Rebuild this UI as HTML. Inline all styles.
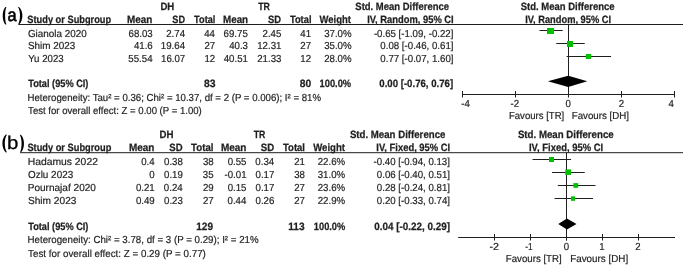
<!DOCTYPE html>
<html><head><meta charset="utf-8"><style>
html,body{margin:0;padding:0;background:#fff;}
svg{display:block;}
text{font-family:"Liberation Sans",sans-serif;}
.t{filter:grayscale(1);text-rendering:geometricPrecision;}
</style></head><body>
<svg width="685" height="267" viewBox="0 0 685 267">
<rect width="685" height="267" fill="#fff"/>
<g class="t">
<path d="M5.4,6.9 C1.80,10.79 1.80,20.71 5.4,24.6 L6.4,24.5 C4.67,20.71 4.67,10.79 6.4,7.0 Z" fill="#000"/>
<text x="7.45" y="20.9" font-size="18" textLength="9.09" lengthAdjust="spacingAndGlyphs" fill="#000" stroke="#000" stroke-width="0.6">a</text>
<path d="M19.0,6.9 C23.53,10.77 23.53,20.63 19.0,24.5 L18.0,24.4 C20.67,20.63 20.67,10.77 18.0,7.0 Z" fill="#000"/>
<text x="160.43" y="10.4" font-size="10.6" font-weight="bold" stroke="#1f1f1f" stroke-width="0.25" textLength="13.89" lengthAdjust="spacingAndGlyphs" fill="#1f1f1f">DH</text>
<text x="258.21" y="10.4" font-size="10.6" font-weight="bold" stroke="#1f1f1f" stroke-width="0.25" textLength="11.79" lengthAdjust="spacingAndGlyphs" fill="#1f1f1f">TR</text>
<text x="355.32" y="10.4" font-size="10.6" font-weight="bold" stroke="#1f1f1f" stroke-width="0.25" textLength="93.67" lengthAdjust="spacingAndGlyphs" fill="#1f1f1f">Std. Mean Difference</text>
<text x="520.72" y="10.4" font-size="10.6" font-weight="bold" stroke="#1f1f1f" stroke-width="0.25" textLength="93.87" lengthAdjust="spacingAndGlyphs" fill="#1f1f1f">Std. Mean Difference</text>
<text x="27.32" y="22.6" font-size="10.6" font-weight="bold" stroke="#1f1f1f" stroke-width="0.25" textLength="83.89" lengthAdjust="spacingAndGlyphs" fill="#1f1f1f">Study or Subgroup</text>
<text x="127.01" y="22.6" font-size="10.6" font-weight="bold" stroke="#1f1f1f" stroke-width="0.25" textLength="25.35" lengthAdjust="spacingAndGlyphs" fill="#1f1f1f">Mean</text>
<text x="172.32" y="22.6" font-size="10.6" font-weight="bold" stroke="#1f1f1f" stroke-width="0.25" textLength="12.73" lengthAdjust="spacingAndGlyphs" fill="#1f1f1f">SD</text>
<text x="194.11" y="22.6" font-size="10.6" font-weight="bold" stroke="#1f1f1f" stroke-width="0.25" textLength="21.28" lengthAdjust="spacingAndGlyphs" fill="#1f1f1f">Total</text>
<text x="223.01" y="22.6" font-size="10.6" font-weight="bold" stroke="#1f1f1f" stroke-width="0.25" textLength="25.14" lengthAdjust="spacingAndGlyphs" fill="#1f1f1f">Mean</text>
<text x="268.02" y="22.6" font-size="10.6" font-weight="bold" stroke="#1f1f1f" stroke-width="0.25" textLength="13.05" lengthAdjust="spacingAndGlyphs" fill="#1f1f1f">SD</text>
<text x="289.91" y="22.6" font-size="10.6" font-weight="bold" stroke="#1f1f1f" stroke-width="0.25" textLength="21.59" lengthAdjust="spacingAndGlyphs" fill="#1f1f1f">Total</text>
<text x="319.50" y="22.6" font-size="10.6" font-weight="bold" stroke="#1f1f1f" stroke-width="0.25" textLength="31.43" lengthAdjust="spacingAndGlyphs" fill="#1f1f1f">Weight</text>
<text x="367.14" y="22.6" font-size="10.6" font-weight="bold" stroke="#1f1f1f" stroke-width="0.25" textLength="86.55" lengthAdjust="spacingAndGlyphs" fill="#1f1f1f">IV, Random, 95% CI</text>
<text x="525.15" y="22.6" font-size="10.6" font-weight="bold" stroke="#1f1f1f" stroke-width="0.25" textLength="85.94" lengthAdjust="spacingAndGlyphs" fill="#1f1f1f">IV, Random, 95% CI</text>
<line x1="18.6" y1="24.5" x2="683" y2="24.5" stroke="#1f1f1f" stroke-width="1"/>
<text x="27.91" y="36.8" font-size="10.2" stroke="#1f1f1f" stroke-width="0.2" textLength="58.88" lengthAdjust="spacingAndGlyphs" fill="#1f1f1f">Gianola 2020</text>
<text x="128.51" y="36.8" font-size="10.2" stroke="#1f1f1f" stroke-width="0.2" textLength="24.20" lengthAdjust="spacingAndGlyphs" fill="#1f1f1f">68.03</text>
<text x="166.23" y="36.8" font-size="10.2" stroke="#1f1f1f" stroke-width="0.2" textLength="18.82" lengthAdjust="spacingAndGlyphs" fill="#1f1f1f">2.74</text>
<text x="204.26" y="36.8" font-size="10.2" stroke="#1f1f1f" stroke-width="0.2" textLength="10.75" lengthAdjust="spacingAndGlyphs" fill="#1f1f1f">44</text>
<text x="223.62" y="36.8" font-size="10.2" stroke="#1f1f1f" stroke-width="0.2" textLength="24.20" lengthAdjust="spacingAndGlyphs" fill="#1f1f1f">69.75</text>
<text x="262.53" y="36.8" font-size="10.2" stroke="#1f1f1f" stroke-width="0.2" textLength="18.82" lengthAdjust="spacingAndGlyphs" fill="#1f1f1f">2.45</text>
<text x="300.35" y="36.8" font-size="10.2" stroke="#1f1f1f" stroke-width="0.2" textLength="10.75" lengthAdjust="spacingAndGlyphs" fill="#1f1f1f">41</text>
<text x="324.13" y="36.8" font-size="10.2" stroke="#1f1f1f" stroke-width="0.2" textLength="27.42" lengthAdjust="spacingAndGlyphs" fill="#1f1f1f">37.0%</text>
<text x="373.90" y="36.8" font-size="10.2" stroke="#1f1f1f" stroke-width="0.2" textLength="79.54" lengthAdjust="spacingAndGlyphs" fill="#1f1f1f">-0.65 [-1.09, -0.22]</text>
<line x1="539.506" y1="30.5" x2="562.648" y2="30.5" stroke="#1f1f1f" stroke-width="1"/>
<text x="27.91" y="49.449999999999996" font-size="10.2" stroke="#1f1f1f" stroke-width="0.2" textLength="47.29" lengthAdjust="spacingAndGlyphs" fill="#1f1f1f">Shim 2023</text>
<text x="133.93" y="49.449999999999996" font-size="10.2" stroke="#1f1f1f" stroke-width="0.2" textLength="18.82" lengthAdjust="spacingAndGlyphs" fill="#1f1f1f">41.6</text>
<text x="160.82" y="49.449999999999996" font-size="10.2" stroke="#1f1f1f" stroke-width="0.2" textLength="24.20" lengthAdjust="spacingAndGlyphs" fill="#1f1f1f">19.64</text>
<text x="204.45" y="49.449999999999996" font-size="10.2" stroke="#1f1f1f" stroke-width="0.2" textLength="10.75" lengthAdjust="spacingAndGlyphs" fill="#1f1f1f">27</text>
<text x="229.13" y="49.449999999999996" font-size="10.2" stroke="#1f1f1f" stroke-width="0.2" textLength="18.82" lengthAdjust="spacingAndGlyphs" fill="#1f1f1f">40.3</text>
<text x="257.21" y="49.449999999999996" font-size="10.2" stroke="#1f1f1f" stroke-width="0.2" textLength="24.20" lengthAdjust="spacingAndGlyphs" fill="#1f1f1f">12.31</text>
<text x="300.35" y="49.449999999999996" font-size="10.2" stroke="#1f1f1f" stroke-width="0.2" textLength="10.75" lengthAdjust="spacingAndGlyphs" fill="#1f1f1f">27</text>
<text x="324.13" y="49.449999999999996" font-size="10.2" stroke="#1f1f1f" stroke-width="0.2" textLength="27.42" lengthAdjust="spacingAndGlyphs" fill="#1f1f1f">35.0%</text>
<text x="380.37" y="49.449999999999996" font-size="10.2" stroke="#1f1f1f" stroke-width="0.2" textLength="73.11" lengthAdjust="spacingAndGlyphs" fill="#1f1f1f">0.08 [-0.46, 0.61]</text>
<line x1="556.264" y1="43.5" x2="584.726" y2="43.5" stroke="#1f1f1f" stroke-width="1"/>
<text x="28.21" y="62.099999999999994" font-size="10.2" stroke="#1f1f1f" stroke-width="0.2" textLength="35.48" lengthAdjust="spacingAndGlyphs" fill="#1f1f1f">Yu 2023</text>
<text x="128.32" y="62.099999999999994" font-size="10.2" stroke="#1f1f1f" stroke-width="0.2" textLength="24.20" lengthAdjust="spacingAndGlyphs" fill="#1f1f1f">55.54</text>
<text x="161.01" y="62.099999999999994" font-size="10.2" stroke="#1f1f1f" stroke-width="0.2" textLength="24.20" lengthAdjust="spacingAndGlyphs" fill="#1f1f1f">16.07</text>
<text x="204.45" y="62.099999999999994" font-size="10.2" stroke="#1f1f1f" stroke-width="0.2" textLength="10.75" lengthAdjust="spacingAndGlyphs" fill="#1f1f1f">12</text>
<text x="223.71" y="62.099999999999994" font-size="10.2" stroke="#1f1f1f" stroke-width="0.2" textLength="24.20" lengthAdjust="spacingAndGlyphs" fill="#1f1f1f">40.51</text>
<text x="257.21" y="62.099999999999994" font-size="10.2" stroke="#1f1f1f" stroke-width="0.2" textLength="24.20" lengthAdjust="spacingAndGlyphs" fill="#1f1f1f">21.33</text>
<text x="300.35" y="62.099999999999994" font-size="10.2" stroke="#1f1f1f" stroke-width="0.2" textLength="10.75" lengthAdjust="spacingAndGlyphs" fill="#1f1f1f">12</text>
<text x="324.13" y="62.099999999999994" font-size="10.2" stroke="#1f1f1f" stroke-width="0.2" textLength="27.42" lengthAdjust="spacingAndGlyphs" fill="#1f1f1f">28.0%</text>
<text x="380.37" y="62.099999999999994" font-size="10.2" stroke="#1f1f1f" stroke-width="0.2" textLength="73.11" lengthAdjust="spacingAndGlyphs" fill="#1f1f1f">0.77 [-0.07, 1.60]</text>
<line x1="566.638" y1="56.5" x2="611.06" y2="56.5" stroke="#1f1f1f" stroke-width="1"/>
<text x="28.21" y="86.7" font-size="10.6" font-weight="bold" stroke="#1f1f1f" stroke-width="0.25" textLength="60.22" lengthAdjust="spacingAndGlyphs" fill="#1f1f1f">Total (95% CI)</text>
<text x="203.89" y="86.7" font-size="10.6" font-weight="bold" stroke="#1f1f1f" stroke-width="0.25" textLength="11.55" lengthAdjust="spacingAndGlyphs" fill="#1f1f1f">83</text>
<text x="299.79" y="86.7" font-size="10.6" font-weight="bold" stroke="#1f1f1f" stroke-width="0.25" textLength="11.44" lengthAdjust="spacingAndGlyphs" fill="#1f1f1f">80</text>
<text x="319.54" y="86.7" font-size="10.6" font-weight="bold" stroke="#1f1f1f" stroke-width="0.25" textLength="31.55" lengthAdjust="spacingAndGlyphs" fill="#1f1f1f">100.0%</text>
<text x="379.31" y="86.7" font-size="10.6" font-weight="bold" stroke="#1f1f1f" stroke-width="0.25" textLength="73.87" lengthAdjust="spacingAndGlyphs" fill="#1f1f1f">0.00 [-0.76, 0.76]</text>
<text x="27.53" y="100.9" font-size="10.2" stroke="#1f1f1f" stroke-width="0.2" textLength="293.48" lengthAdjust="spacingAndGlyphs" fill="#1f1f1f">Heterogeneity: Tau² = 0.36; Chi² = 10.37, df = 2 (P = 0.006); I² = 81%</text>
<text x="28.11" y="113.9" font-size="10.2" stroke="#1f1f1f" stroke-width="0.2" textLength="173.65" lengthAdjust="spacingAndGlyphs" fill="#1f1f1f">Test for overall effect: Z = 0.00 (P = 1.00)</text>
<line x1="568.5" y1="24" x2="568.5" y2="97" stroke="#1f1f1f" stroke-width="1"/>
<line x1="462" y1="94.5" x2="675" y2="94.5" stroke="#1f1f1f" stroke-width="1"/>
<line x1="462.5" y1="91" x2="462.5" y2="97.5" stroke="#1f1f1f" stroke-width="1"/>
<line x1="515.5" y1="91" x2="515.5" y2="97.5" stroke="#1f1f1f" stroke-width="1"/>
<line x1="568.5" y1="91" x2="568.5" y2="97.5" stroke="#1f1f1f" stroke-width="1"/>
<line x1="621.5" y1="91" x2="621.5" y2="97.5" stroke="#1f1f1f" stroke-width="1"/>
<line x1="674.5" y1="91" x2="674.5" y2="97.5" stroke="#1f1f1f" stroke-width="1"/>
<polygon points="547.9,81.3 568.2,75.7 587.3,81.3 568.2,86.9" fill="#000"/>
<text x="461.31" y="106.8" font-size="10.2" stroke="#1f1f1f" stroke-width="0.2" textLength="8.60" lengthAdjust="spacingAndGlyphs" fill="#1f1f1f">-4</text>
<text x="510.55" y="106.8" font-size="10.2" stroke="#1f1f1f" stroke-width="0.2" textLength="8.60" lengthAdjust="spacingAndGlyphs" fill="#1f1f1f">-2</text>
<text x="565.59" y="106.8" font-size="10.2" stroke="#1f1f1f" stroke-width="0.2" textLength="5.38" lengthAdjust="spacingAndGlyphs" fill="#1f1f1f">0</text>
<text x="618.69" y="106.8" font-size="10.2" stroke="#1f1f1f" stroke-width="0.2" textLength="5.38" lengthAdjust="spacingAndGlyphs" fill="#1f1f1f">2</text>
<text x="668.48" y="106.8" font-size="10.2" stroke="#1f1f1f" stroke-width="0.2" textLength="5.38" lengthAdjust="spacingAndGlyphs" fill="#1f1f1f">4</text>
<text x="508.93" y="119" font-size="10.2" stroke="#1f1f1f" stroke-width="0.2" textLength="55.32" lengthAdjust="spacingAndGlyphs" fill="#1f1f1f">Favours [TR]</text>
<text x="571.72" y="119" font-size="10.2" stroke="#1f1f1f" stroke-width="0.2" textLength="57.26" lengthAdjust="spacingAndGlyphs" fill="#1f1f1f">Favours [DH]</text>
<path d="M5.9,134.6 C1.23,138.52 1.23,148.48 5.9,152.4 L6.9,152.3 C4.10,148.48 4.10,138.52 6.9,134.7 Z" fill="#000"/>
<text x="6.97" y="149.3" font-size="18.5" textLength="11.36" lengthAdjust="spacingAndGlyphs" fill="#000" stroke="#000" stroke-width="0.3">b</text>
<path d="M20.9,134.8 C25.03,138.72 25.03,148.68 20.9,152.6 L19.9,152.5 C22.17,148.68 22.17,138.72 19.9,134.9 Z" fill="#000"/>
<text x="159.62" y="138.2" font-size="10.6" font-weight="bold" stroke="#1f1f1f" stroke-width="0.25" textLength="14.00" lengthAdjust="spacingAndGlyphs" fill="#1f1f1f">DH</text>
<text x="253.81" y="138.2" font-size="10.6" font-weight="bold" stroke="#1f1f1f" stroke-width="0.25" textLength="11.59" lengthAdjust="spacingAndGlyphs" fill="#1f1f1f">TR</text>
<text x="349.91" y="138.2" font-size="10.6" font-weight="bold" stroke="#1f1f1f" stroke-width="0.25" textLength="95.48" lengthAdjust="spacingAndGlyphs" fill="#1f1f1f">Std. Mean Difference</text>
<text x="517.91" y="138.2" font-size="10.6" font-weight="bold" stroke="#1f1f1f" stroke-width="0.25" textLength="95.78" lengthAdjust="spacingAndGlyphs" fill="#1f1f1f">Std. Mean Difference</text>
<text x="27.42" y="150.6" font-size="10.6" font-weight="bold" stroke="#1f1f1f" stroke-width="0.25" textLength="83.89" lengthAdjust="spacingAndGlyphs" fill="#1f1f1f">Study or Subgroup</text>
<text x="128.90" y="150.6" font-size="10.6" font-weight="bold" stroke="#1f1f1f" stroke-width="0.25" textLength="25.56" lengthAdjust="spacingAndGlyphs" fill="#1f1f1f">Mean</text>
<text x="169.31" y="150.6" font-size="10.6" font-weight="bold" stroke="#1f1f1f" stroke-width="0.25" textLength="13.26" lengthAdjust="spacingAndGlyphs" fill="#1f1f1f">SD</text>
<text x="191.10" y="150.6" font-size="10.6" font-weight="bold" stroke="#1f1f1f" stroke-width="0.25" textLength="22.42" lengthAdjust="spacingAndGlyphs" fill="#1f1f1f">Total</text>
<text x="220.90" y="150.6" font-size="10.6" font-weight="bold" stroke="#1f1f1f" stroke-width="0.25" textLength="25.56" lengthAdjust="spacingAndGlyphs" fill="#1f1f1f">Mean</text>
<text x="260.71" y="150.6" font-size="10.6" font-weight="bold" stroke="#1f1f1f" stroke-width="0.25" textLength="13.47" lengthAdjust="spacingAndGlyphs" fill="#1f1f1f">SD</text>
<text x="283.00" y="150.6" font-size="10.6" font-weight="bold" stroke="#1f1f1f" stroke-width="0.25" textLength="22.01" lengthAdjust="spacingAndGlyphs" fill="#1f1f1f">Total</text>
<text x="313.20" y="150.6" font-size="10.6" font-weight="bold" stroke="#1f1f1f" stroke-width="0.25" textLength="31.84" lengthAdjust="spacingAndGlyphs" fill="#1f1f1f">Weight</text>
<text x="376.34" y="150.6" font-size="10.6" font-weight="bold" stroke="#1f1f1f" stroke-width="0.25" textLength="73.87" lengthAdjust="spacingAndGlyphs" fill="#1f1f1f">IV, Fixed, 95% CI</text>
<text x="528.94" y="150.6" font-size="10.6" font-weight="bold" stroke="#1f1f1f" stroke-width="0.25" textLength="74.28" lengthAdjust="spacingAndGlyphs" fill="#1f1f1f">IV, Fixed, 95% CI</text>
<line x1="20.2" y1="152.7" x2="683" y2="152.7" stroke="#1f1f1f" stroke-width="1"/>
<text x="27.67" y="165.1" font-size="10.2" stroke="#1f1f1f" stroke-width="0.2" textLength="70.26" lengthAdjust="spacingAndGlyphs" fill="#1f1f1f">Hadamus 2022</text>
<text x="141.15" y="165.1" font-size="10.2" stroke="#1f1f1f" stroke-width="0.2" textLength="13.44" lengthAdjust="spacingAndGlyphs" fill="#1f1f1f">0.4</text>
<text x="164.03" y="165.1" font-size="10.2" stroke="#1f1f1f" stroke-width="0.2" textLength="18.82" lengthAdjust="spacingAndGlyphs" fill="#1f1f1f">0.38</text>
<text x="202.95" y="165.1" font-size="10.2" stroke="#1f1f1f" stroke-width="0.2" textLength="10.75" lengthAdjust="spacingAndGlyphs" fill="#1f1f1f">38</text>
<text x="227.63" y="165.1" font-size="10.2" stroke="#1f1f1f" stroke-width="0.2" textLength="18.82" lengthAdjust="spacingAndGlyphs" fill="#1f1f1f">0.55</text>
<text x="255.33" y="165.1" font-size="10.2" stroke="#1f1f1f" stroke-width="0.2" textLength="18.82" lengthAdjust="spacingAndGlyphs" fill="#1f1f1f">0.34</text>
<text x="294.15" y="165.1" font-size="10.2" stroke="#1f1f1f" stroke-width="0.2" textLength="10.75" lengthAdjust="spacingAndGlyphs" fill="#1f1f1f">21</text>
<text x="317.73" y="165.1" font-size="10.2" stroke="#1f1f1f" stroke-width="0.2" textLength="27.42" lengthAdjust="spacingAndGlyphs" fill="#1f1f1f">22.6%</text>
<text x="373.59" y="165.1" font-size="10.2" stroke="#1f1f1f" stroke-width="0.2" textLength="76.32" lengthAdjust="spacingAndGlyphs" fill="#1f1f1f">-0.40 [-0.94, 0.13]</text>
<line x1="532.56" y1="159.5" x2="571.0799999999999" y2="159.5" stroke="#1f1f1f" stroke-width="1"/>
<text x="28.00" y="178.07" font-size="10.2" stroke="#1f1f1f" stroke-width="0.2" textLength="45.17" lengthAdjust="spacingAndGlyphs" fill="#1f1f1f">Ozlu 2023</text>
<text x="149.27" y="178.07" font-size="10.2" stroke="#1f1f1f" stroke-width="0.2" textLength="5.38" lengthAdjust="spacingAndGlyphs" fill="#1f1f1f">0</text>
<text x="164.03" y="178.07" font-size="10.2" stroke="#1f1f1f" stroke-width="0.2" textLength="18.82" lengthAdjust="spacingAndGlyphs" fill="#1f1f1f">0.19</text>
<text x="202.86" y="178.07" font-size="10.2" stroke="#1f1f1f" stroke-width="0.2" textLength="10.75" lengthAdjust="spacingAndGlyphs" fill="#1f1f1f">35</text>
<text x="224.54" y="178.07" font-size="10.2" stroke="#1f1f1f" stroke-width="0.2" textLength="22.04" lengthAdjust="spacingAndGlyphs" fill="#1f1f1f">-0.01</text>
<text x="255.53" y="178.07" font-size="10.2" stroke="#1f1f1f" stroke-width="0.2" textLength="18.82" lengthAdjust="spacingAndGlyphs" fill="#1f1f1f">0.17</text>
<text x="294.15" y="178.07" font-size="10.2" stroke="#1f1f1f" stroke-width="0.2" textLength="10.75" lengthAdjust="spacingAndGlyphs" fill="#1f1f1f">38</text>
<text x="317.73" y="178.07" font-size="10.2" stroke="#1f1f1f" stroke-width="0.2" textLength="27.42" lengthAdjust="spacingAndGlyphs" fill="#1f1f1f">31.0%</text>
<text x="376.87" y="178.07" font-size="10.2" stroke="#1f1f1f" stroke-width="0.2" textLength="73.11" lengthAdjust="spacingAndGlyphs" fill="#1f1f1f">0.06 [-0.40, 0.51]</text>
<line x1="552.0" y1="172.5" x2="584.76" y2="172.5" stroke="#1f1f1f" stroke-width="1"/>
<text x="27.70" y="191.04" font-size="10.2" stroke="#1f1f1f" stroke-width="0.2" textLength="68.23" lengthAdjust="spacingAndGlyphs" fill="#1f1f1f">Pournajaf 2020</text>
<text x="135.93" y="191.04" font-size="10.2" stroke="#1f1f1f" stroke-width="0.2" textLength="18.82" lengthAdjust="spacingAndGlyphs" fill="#1f1f1f">0.21</text>
<text x="163.83" y="191.04" font-size="10.2" stroke="#1f1f1f" stroke-width="0.2" textLength="18.82" lengthAdjust="spacingAndGlyphs" fill="#1f1f1f">0.24</text>
<text x="202.95" y="191.04" font-size="10.2" stroke="#1f1f1f" stroke-width="0.2" textLength="10.75" lengthAdjust="spacingAndGlyphs" fill="#1f1f1f">29</text>
<text x="227.63" y="191.04" font-size="10.2" stroke="#1f1f1f" stroke-width="0.2" textLength="18.82" lengthAdjust="spacingAndGlyphs" fill="#1f1f1f">0.15</text>
<text x="255.53" y="191.04" font-size="10.2" stroke="#1f1f1f" stroke-width="0.2" textLength="18.82" lengthAdjust="spacingAndGlyphs" fill="#1f1f1f">0.17</text>
<text x="294.15" y="191.04" font-size="10.2" stroke="#1f1f1f" stroke-width="0.2" textLength="10.75" lengthAdjust="spacingAndGlyphs" fill="#1f1f1f">27</text>
<text x="317.73" y="191.04" font-size="10.2" stroke="#1f1f1f" stroke-width="0.2" textLength="27.42" lengthAdjust="spacingAndGlyphs" fill="#1f1f1f">23.6%</text>
<text x="376.87" y="191.04" font-size="10.2" stroke="#1f1f1f" stroke-width="0.2" textLength="73.11" lengthAdjust="spacingAndGlyphs" fill="#1f1f1f">0.28 [-0.24, 0.81]</text>
<line x1="557.76" y1="185.5" x2="595.56" y2="185.5" stroke="#1f1f1f" stroke-width="1"/>
<text x="27.99" y="204.01" font-size="10.2" stroke="#1f1f1f" stroke-width="0.2" textLength="48.42" lengthAdjust="spacingAndGlyphs" fill="#1f1f1f">Shim 2023</text>
<text x="135.93" y="204.01" font-size="10.2" stroke="#1f1f1f" stroke-width="0.2" textLength="18.82" lengthAdjust="spacingAndGlyphs" fill="#1f1f1f">0.49</text>
<text x="164.03" y="204.01" font-size="10.2" stroke="#1f1f1f" stroke-width="0.2" textLength="18.82" lengthAdjust="spacingAndGlyphs" fill="#1f1f1f">0.23</text>
<text x="202.95" y="204.01" font-size="10.2" stroke="#1f1f1f" stroke-width="0.2" textLength="10.75" lengthAdjust="spacingAndGlyphs" fill="#1f1f1f">27</text>
<text x="227.53" y="204.01" font-size="10.2" stroke="#1f1f1f" stroke-width="0.2" textLength="18.82" lengthAdjust="spacingAndGlyphs" fill="#1f1f1f">0.44</text>
<text x="255.53" y="204.01" font-size="10.2" stroke="#1f1f1f" stroke-width="0.2" textLength="18.82" lengthAdjust="spacingAndGlyphs" fill="#1f1f1f">0.26</text>
<text x="294.15" y="204.01" font-size="10.2" stroke="#1f1f1f" stroke-width="0.2" textLength="10.75" lengthAdjust="spacingAndGlyphs" fill="#1f1f1f">27</text>
<text x="317.73" y="204.01" font-size="10.2" stroke="#1f1f1f" stroke-width="0.2" textLength="27.42" lengthAdjust="spacingAndGlyphs" fill="#1f1f1f">22.9%</text>
<text x="376.87" y="204.01" font-size="10.2" stroke="#1f1f1f" stroke-width="0.2" textLength="73.11" lengthAdjust="spacingAndGlyphs" fill="#1f1f1f">0.20 [-0.33, 0.74]</text>
<line x1="554.52" y1="198.5" x2="593.04" y2="198.5" stroke="#1f1f1f" stroke-width="1"/>
<text x="28.21" y="229.6" font-size="10.6" font-weight="bold" stroke="#1f1f1f" stroke-width="0.25" textLength="60.22" lengthAdjust="spacingAndGlyphs" fill="#1f1f1f">Total (95% CI)</text>
<text x="196.22" y="229.6" font-size="10.6" font-weight="bold" stroke="#1f1f1f" stroke-width="0.25" textLength="16.76" lengthAdjust="spacingAndGlyphs" fill="#1f1f1f">129</text>
<text x="288.29" y="229.6" font-size="10.6" font-weight="bold" stroke="#1f1f1f" stroke-width="0.25" textLength="16.34" lengthAdjust="spacingAndGlyphs" fill="#1f1f1f">113</text>
<text x="313.84" y="229.6" font-size="10.6" font-weight="bold" stroke="#1f1f1f" stroke-width="0.25" textLength="31.45" lengthAdjust="spacingAndGlyphs" fill="#1f1f1f">100.0%</text>
<text x="374.20" y="229.6" font-size="10.6" font-weight="bold" stroke="#1f1f1f" stroke-width="0.25" textLength="75.80" lengthAdjust="spacingAndGlyphs" fill="#1f1f1f">0.04 [-0.22, 0.29]</text>
<text x="27.52" y="243.2" font-size="10.2" stroke="#1f1f1f" stroke-width="0.2" textLength="231.08" lengthAdjust="spacingAndGlyphs" fill="#1f1f1f">Heterogeneity: Chi² = 3.78, df = 3 (P = 0.29); I² = 21%</text>
<text x="28.10" y="256.9" font-size="10.2" stroke="#1f1f1f" stroke-width="0.2" textLength="177.76" lengthAdjust="spacingAndGlyphs" fill="#1f1f1f">Test for overall effect: Z = 0.29 (P = 0.77)</text>
<line x1="566.5" y1="152.5" x2="566.5" y2="240.5" stroke="#1f1f1f" stroke-width="1"/>
<line x1="458.2" y1="237.5" x2="675" y2="237.5" stroke="#1f1f1f" stroke-width="1"/>
<line x1="494.5" y1="234" x2="494.5" y2="240.5" stroke="#1f1f1f" stroke-width="1"/>
<line x1="530.5" y1="234" x2="530.5" y2="240.5" stroke="#1f1f1f" stroke-width="1"/>
<line x1="566.5" y1="234" x2="566.5" y2="240.5" stroke="#1f1f1f" stroke-width="1"/>
<line x1="602.5" y1="234" x2="602.5" y2="240.5" stroke="#1f1f1f" stroke-width="1"/>
<line x1="638.5" y1="234" x2="638.5" y2="240.5" stroke="#1f1f1f" stroke-width="1"/>
<polygon points="558.3,224.0 566.9,218.5 576.5,224.0 566.9,229.5" fill="#000"/>
<text x="489.47" y="249.7" font-size="10.2" stroke="#1f1f1f" stroke-width="0.2" textLength="9.56" lengthAdjust="spacingAndGlyphs" fill="#1f1f1f">-2</text>
<text x="525.17" y="249.7" font-size="10.2" stroke="#1f1f1f" stroke-width="0.2" textLength="7.33" lengthAdjust="spacingAndGlyphs" fill="#1f1f1f">-1</text>
<text x="563.79" y="249.7" font-size="10.2" stroke="#1f1f1f" stroke-width="0.2" textLength="5.38" lengthAdjust="spacingAndGlyphs" fill="#1f1f1f">0</text>
<text x="599.15" y="249.7" font-size="10.2" stroke="#1f1f1f" stroke-width="0.2" textLength="5.38" lengthAdjust="spacingAndGlyphs" fill="#1f1f1f">1</text>
<text x="635.29" y="249.7" font-size="10.2" stroke="#1f1f1f" stroke-width="0.2" textLength="5.38" lengthAdjust="spacingAndGlyphs" fill="#1f1f1f">2</text>
<text x="505.83" y="261.6" font-size="10.2" stroke="#1f1f1f" stroke-width="0.2" textLength="55.83" lengthAdjust="spacingAndGlyphs" fill="#1f1f1f">Favours [TR]</text>
<text x="570.21" y="261.6" font-size="10.2" stroke="#1f1f1f" stroke-width="0.2" textLength="57.97" lengthAdjust="spacingAndGlyphs" fill="#1f1f1f">Favours [DH]</text>
</g>
<rect x="547" y="28" width="7" height="6" fill="#00c000"/>
<rect x="567" y="41" width="6" height="6" fill="#00c000"/>
<rect x="585.8" y="54" width="5.4" height="5" fill="#00c000"/>
<rect x="549" y="157" width="5" height="5" fill="#00c000"/>
<rect x="565.3" y="169.4" width="5.7" height="5.6" fill="#00c000"/>
<rect x="573.4" y="183.1" width="4.8" height="4.7" fill="#00c000"/>
<rect x="571" y="196.3" width="4.1" height="4.5" fill="#00c000"/>
</svg>
</body></html>
